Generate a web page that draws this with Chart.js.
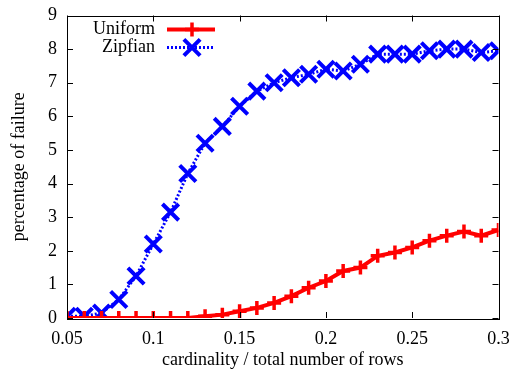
<!DOCTYPE html>
<html>
<head>
<meta charset="utf-8">
<script src="https://cdn.jsdelivr.net/npm/chart.js@4"></script>
<style>
  html, body { margin: 0; padding: 0; background: #fff; }
  #wrap { width: 514px; height: 371px; }
</style>
</head>
<body>
<div id="wrap"><canvas id="grafico" width="514" height="371"></canvas></div>
<script>
const cardinalidad = [0.05, 0.06, 0.07, 0.08, 0.09, 0.10, 0.11, 0.12, 0.13, 0.14,
  0.15, 0.16, 0.17, 0.18, 0.19, 0.20, 0.21, 0.22, 0.23, 0.24,
  0.25, 0.26, 0.27, 0.28, 0.29, 0.30];
const uniforme = [0, 0, 0, 0, 0, 0, 0, 0, 0.05, 0.1,
  0.2, 0.3, 0.45, 0.65, 0.9, 1.1, 1.4, 1.5, 1.85, 1.95,
  2.1, 2.3, 2.45, 2.57, 2.45, 2.62];
const zipf = [0.05, 0.05, 0.15, 0.55, 1.25, 2.2, 3.15, 4.3, 5.2, 5.7,
  6.3, 6.75, 7.0, 7.15, 7.25, 7.4, 7.35, 7.55, 7.85, 7.85,
  7.85, 7.95, 8.0, 8.0, 7.9, 7.95];
const etiquetasX = ['0.05', '0.1', '0.15', '0.2', '0.25', '0.3'];

const fuente = "'Liberation Serif', 'DejaVu Serif', serif";

// gnuplot-style ticks: inside, on all four sides
const marcasDentro = {
  id: 'marcasDentro',
  afterDraw(chart) {
    const { ctx, chartArea: a, scales } = chart;
    const largo = 6;
    ctx.save();
    ctx.strokeStyle = '#000';
    ctx.lineWidth = 1;
    ctx.beginPath();
    scales.x.ticks.forEach(t => {
      const px = Math.round(scales.x.getPixelForValue(t.value)) + 0.5;
      ctx.moveTo(px, a.bottom); ctx.lineTo(px, a.bottom - largo);
      ctx.moveTo(px, a.top); ctx.lineTo(px, a.top + largo);
    });
    scales.y.ticks.forEach(t => {
      const py = Math.round(scales.y.getPixelForValue(t.value)) + 0.5;
      ctx.moveTo(a.left, py); ctx.lineTo(a.left + largo, py);
      ctx.moveTo(a.right, py); ctx.lineTo(a.right - largo, py);
    });
    ctx.stroke();
    ctx.strokeRect(Math.round(a.left) + 0.5, Math.round(a.top) + 0.5,
      Math.round(a.right - a.left), Math.round(a.bottom - a.top));
    ctx.restore();
  }
};

// legend inside the plot, text right-aligned, sample to the right
const leyendaDentro = {
  id: 'leyendaDentro',
  afterDraw(chart) {
    const { ctx, chartArea: a } = chart;
    ctx.save();
    ctx.font = '18px ' + fuente;
    ctx.textAlign = 'right';
    ctx.textBaseline = 'middle';
    chart.data.datasets.forEach((ds, i) => {
      const y = a.top + 14 + i * 18;
      const xt = a.left + 88;
      ctx.fillStyle = '#000';
      ctx.fillText(ds.label, xt, y);
      ctx.strokeStyle = ds.borderColor;
      ctx.lineWidth = ds.borderWidth;
      ctx.setLineDash(ds.borderDash || []);
      ctx.beginPath();
      ctx.moveTo(xt + 12, y); ctx.lineTo(xt + 60, y);
      ctx.stroke();
      ctx.setLineDash([]);
      ctx.lineWidth = ds.pointBorderWidth;
      const cx = xt + 37, r = ds.pointRadius;
      ctx.beginPath();
      if (ds.pointStyle === 'cross') {
        ctx.moveTo(cx - r, y); ctx.lineTo(cx + r, y);
        ctx.moveTo(cx, y - r); ctx.lineTo(cx, y + r);
      } else {
        const d = r * Math.SQRT1_2;
        ctx.moveTo(cx - d, y - d); ctx.lineTo(cx + d, y + d);
        ctx.moveTo(cx - d, y + d); ctx.lineTo(cx + d, y - d);
      }
      ctx.stroke();
    });
    ctx.restore();
  }
};

const ctx = document.getElementById('grafico').getContext('2d');
new Chart(ctx, {
  type: 'line',
  data: {
    datasets: [{
      label: 'Uniform',
      data: cardinalidad.map((c, i) => ({ x: c, y: uniforme[i] })),
      borderColor: '#ff0000',
      backgroundColor: '#ff0000',
      borderWidth: 4,
      pointStyle: 'cross',
      pointRadius: 7,
      pointBorderWidth: 3.5,
      fill: false,
      tension: 0
    }, {
      label: 'Zipfian',
      data: cardinalidad.map((c, i) => ({ x: c, y: zipf[i] })),
      borderColor: '#0000ff',
      backgroundColor: '#0000ff',
      borderWidth: 3,
      borderDash: [2, 2],
      pointStyle: 'crossRot',
      pointRadius: 11.5,
      pointBorderWidth: 4,
      fill: false,
      tension: 0
    }]
  },
  options: {
    responsive: false,
    animation: false,
    layout: { padding: { top: 14, right: 14, left: 8, bottom: 0 } },
    plugins: {
      legend: { display: false },
      tooltip: { enabled: false }
    },
    scales: {
      x: {
        type: 'linear',
        min: 0.05,
        max: 0.3,
        grid: { display: false, drawTicks: false },
        border: { display: false },
        ticks: {
          stepSize: 0.05,
          padding: 10,
          color: '#000',
          font: { family: fuente, size: 18 },
          callback: v => etiquetasX[Math.round((v - 0.05) / 0.05)]
        },
        title: {
          display: true,
          text: 'cardinality / total number of rows',
          color: '#000',
          font: { family: fuente, size: 18 },
          padding: { top: 9, bottom: 0 }
        },
        afterFit: s => { s.height = 53; s.paddingLeft = 0; s.paddingRight = 0; }
      },
      y: {
        min: 0,
        max: 9,
        grid: { display: false, drawTicks: false },
        border: { display: false },
        ticks: {
          stepSize: 1,
          padding: 10,
          color: '#000',
          font: { family: fuente, size: 18 }
        },
        title: {
          display: true,
          text: 'percentage of failure',
          color: '#000',
          font: { family: fuente, size: 18 },
          padding: { top: 0, bottom: 6 }
        },
        afterFit: s => { s.width = 59; s.paddingTop = 0; s.paddingBottom = 0; }
      }
    }
  },
  plugins: [marcasDentro, leyendaDentro]
});
</script>
</body>
</html>
